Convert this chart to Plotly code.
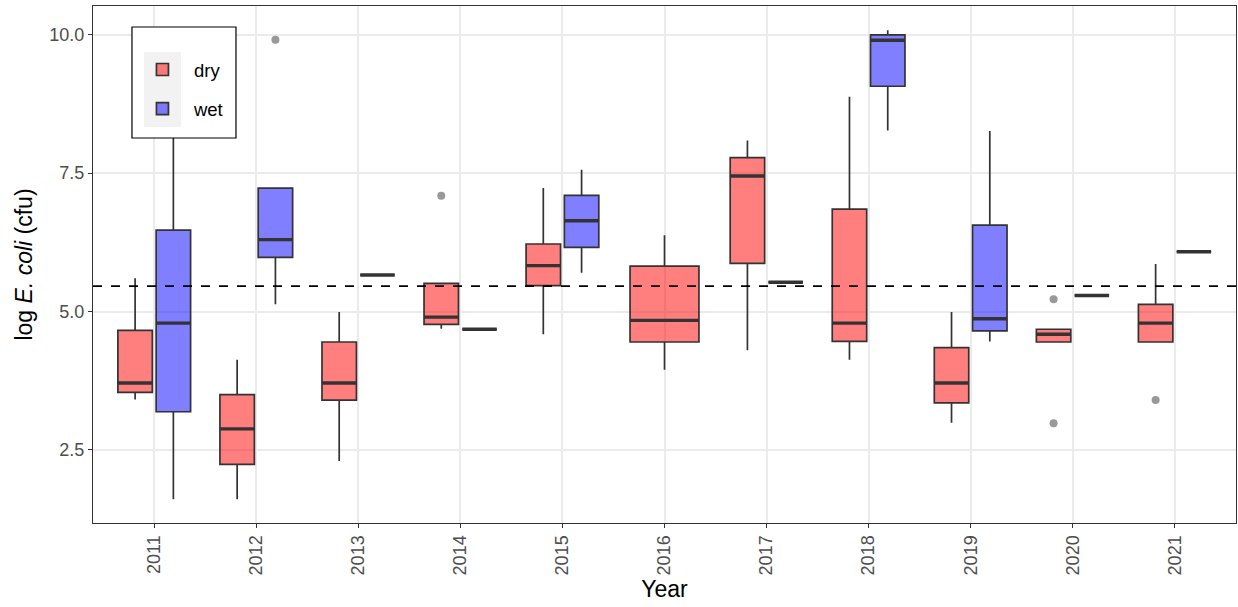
import plotly.graph_objects as go

# Log E. coli summary statistics per year and season
years = [2011, 2012, 2013, 2014, 2015, 2016, 2017, 2018, 2019, 2020, 2021]

dry_low = [3.41, 1.61, 2.30, 4.69, 4.59, 3.95, 4.30, 4.13, 2.99, 4.45, 4.45]
dry_q1 = [3.54, 2.24, 3.40, 4.77, 5.47, 4.45, 5.87, 4.46, 3.35, 4.45, 4.45]
dry_med = [3.71, 2.88, 3.71, 4.90, 5.83, 4.84, 7.45, 4.79, 3.71, 4.59, 4.79]
dry_q3 = [4.66, 3.50, 4.45, 5.51, 6.22, 5.82, 7.78, 6.85, 4.35, 4.68, 5.13]
dry_high = [5.60, 4.13, 4.99, 5.51, 7.23, 6.38, 8.09, 8.88, 4.99, 4.68, 5.86]

wet_years = [2011, 2012, 2013, 2014, 2015, 2017, 2018, 2019, 2020, 2021]
wet_low = [1.61, 5.13, 5.66, 4.68, 5.70, 5.53, 8.27, 4.46, 5.29, 6.08]
wet_q1 = [3.19, 5.98, 5.66, 4.68, 6.16, 5.53, 9.07, 4.65, 5.29, 6.08]
wet_med = [4.79, 6.30, 5.66, 4.68, 6.64, 5.53, 9.90, 4.87, 5.29, 6.08]
wet_q3 = [6.47, 7.23, 5.66, 4.68, 7.10, 5.53, 10.00, 6.56, 5.29, 6.08]
wet_high = [9.00, 7.23, 5.66, 4.68, 7.56, 5.53, 10.08, 8.26, 5.29, 6.08]

dry_outlier_years = [2014, 2020, 2020, 2021]
dry_outliers = [7.09, 5.22, 2.98, 3.40]
wet_outlier_years = [2012]
wet_outliers = [9.91]

threshold = 5.46  # ln(235 cfu)

# Dodge geometry (width 0.75 split in two, 10% padding)
FULL_W = 0.675
HALF_W = 0.3375
OFF = 0.1875

DRY_FILL = "rgba(255,0,0,0.5)"
WET_FILL = "rgba(0,0,255,0.5)"
EDGE = "#333333"
FONT = "Liberation Sans, Arial, sans-serif"


def dry_pos(y):
    return y - OFF if y in wet_years else y


def dry_width(y):
    return HALF_W if y in wet_years else FULL_W


fig = go.Figure()

# Dry boxes: years shared with wet are dodged, the others span full width
paired = [i for i, y in enumerate(years) if y in wet_years]
solo = [i for i, y in enumerate(years) if y not in wet_years]

for idx, w, show in [(paired, HALF_W, True), (solo, FULL_W, False)]:
    fig.add_trace(go.Box(
        name="dry", legendgroup="dry", showlegend=show,
        x=[dry_pos(years[i]) for i in idx],
        q1=[dry_q1[i] for i in idx],
        median=[dry_med[i] for i in idx],
        q3=[dry_q3[i] for i in idx],
        lowerfence=[dry_low[i] for i in idx],
        upperfence=[dry_high[i] for i in idx],
        width=w, whiskerwidth=0, boxpoints=False,
        fillcolor=DRY_FILL, line=dict(color=EDGE, width=1.7),
    ))

fig.add_trace(go.Box(
    name="wet", legendgroup="wet", showlegend=True,
    x=[y + OFF for y in wet_years],
    q1=wet_q1, median=wet_med, q3=wet_q3,
    lowerfence=wet_low, upperfence=wet_high,
    width=HALF_W, whiskerwidth=0, boxpoints=False,
    fillcolor=WET_FILL, line=dict(color=EDGE, width=1.7),
))

# Thick median bars
mx, my = [], []
for y, m in zip(years, dry_med):
    c, w = dry_pos(y), dry_width(y)
    mx += [c - w / 2, c + w / 2, None]
    my += [m, m, None]
for y, m in zip(wet_years, wet_med):
    c = y + OFF
    mx += [c - HALF_W / 2, c + HALF_W / 2, None]
    my += [m, m, None]
fig.add_trace(go.Scatter(x=mx, y=my, mode="lines", showlegend=False,
                         hoverinfo="skip",
                         line=dict(color=EDGE, width=3.4)))

# Outliers
fig.add_trace(go.Scatter(
    x=[dry_pos(y) for y in dry_outlier_years] + [y + OFF for y in wet_outlier_years],
    y=dry_outliers + wet_outliers,
    mode="markers", showlegend=False, hoverinfo="y",
    marker=dict(color="rgba(90,90,90,0.62)", size=8),
))

# Reference threshold
fig.add_hline(y=threshold, line=dict(color="black", width=1.7, dash="dash"))

# Legend panel (white box with frame and grey key background)
fig.add_shape(type="rect", xref="paper", yref="paper", layer="above",
              x0=0.0341, x1=0.1251, y0=0.7447, y1=0.9594,
              fillcolor="white", line=dict(color="black", width=1.2))
fig.add_shape(type="rect", xref="paper", yref="paper", layer="above",
              x0=0.0446, x1=0.0770, y0=0.766, y1=0.911,
              fillcolor="#F2F2F2", line=dict(width=0))

axis_common = dict(
    showline=True, linecolor=EDGE, linewidth=1.3, mirror=True,
    showgrid=True, gridcolor="#EBEBEB", gridwidth=1.6,
    ticks="outside", ticklen=4, tickcolor=EDGE, tickwidth=1.3,
    tickfont=dict(family=FONT, size=18, color="#4D4D4D"),
    zeroline=False,
)

fig.update_layout(
    width=1238, height=607,
    margin=dict(l=93, r=2, t=6, b=84),
    plot_bgcolor="white", paper_bgcolor="white",
    boxmode="overlay",
    font=dict(family=FONT, size=18.5, color="black"),
    xaxis=dict(
        axis_common, range=[2010.4, 2021.6],
        tickmode="array", tickvals=years, ticktext=[str(y) for y in years],
        tickangle=-90,
        title=dict(text="Year", font=dict(family=FONT, size=23, color="black"),
                   standoff=6),
    ),
    yaxis=dict(
        axis_common, range=[1.18, 10.52],
        tickmode="array", tickvals=[2.5, 5.0, 7.5, 10.0],
        ticktext=["2.5", "5.0", "7.5", "10.0"],
        title=dict(text="log <i>E. coli</i> (cfu)",
                   font=dict(family=FONT, size=23, color="black"),
                   standoff=10),
    ),
    legend=dict(
        x=0.0332, y=0.913, xanchor="left", yanchor="top",
        bgcolor="rgba(0,0,0,0)", borderwidth=0,
        font=dict(family=FONT, size=18.5, color="black"),
        tracegroupgap=12, itemwidth=53,
    ),
)

fig.write_html("out.html")
